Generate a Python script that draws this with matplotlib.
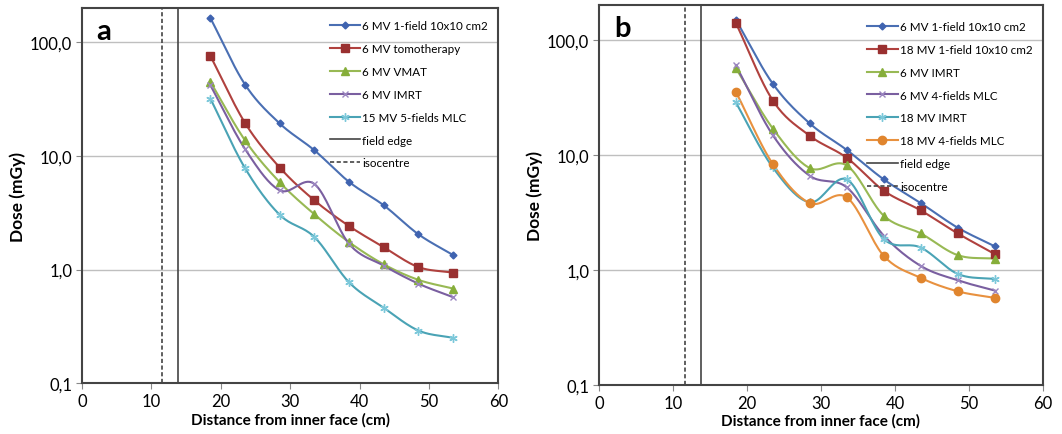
import numpy as np
import matplotlib
matplotlib.use("Agg")
import matplotlib.pyplot as plt
from matplotlib.lines import Line2D

plt.rcParams['font.family'] = ['Lato', 'DejaVu Sans']

distance = [18.5, 23.5, 28.5, 33.5, 38.5, 43.5, 48.5, 53.5]
isocentre_x = 11.6
field_edge_x = 13.8

# Panel a
a_labels = ["6 MV 1-field 10x10 cm2", "6 MV tomotherapy", "6 MV VMAT", "6 MV IMRT", "15 MV 5-fields MLC"]
a_6mv_1field = [164, 42.5, 19.3, 11.2, 5.9, 3.67, 2.04, 1.34]
a_6mv_tomo = [76, 19.5, 7.9, 4.06, 2.41, 1.57, 1.05, 0.94]
a_6mv_vmat = [45, 13.7, 5.86, 3.06, 1.74, 1.11, 0.81, 0.68]
a_6mv_imrt = [42, 11.5, 4.98, 5.66, 1.68, 1.08, 0.75, 0.57]
a_15mv_5f = [32, 7.8, 3.03, 1.93, 0.77, 0.46, 0.29, 0.25]

# Panel b
b_labels = ["6 MV 1-field 10x10 cm2", "18 MV 1-field 10x10 cm2", "6 MV IMRT",
            "6 MV 4-fields MLC", "18 MV IMRT", "18 MV 4-fields MLC"]
b_6mv_1field = [149, 41.4, 18.7, 11.0, 6.1, 3.8, 2.32, 1.60]
b_18mv_1field = [140, 29.6, 14.6, 9.4, 4.87, 3.28, 2.07, 1.37]
b_6mv_imrt = [56.7, 16.9, 7.66, 8.07, 2.95, 2.07, 1.34, 1.25]
b_6mv_4f = [60, 14.8, 6.56, 5.2, 1.98, 1.08, 0.81, 0.66]
b_18mv_imrt = [28.5, 7.76, 3.86, 6.1, 1.85, 1.56, 0.92, 0.83]
b_18mv_4f = [35.3, 8.3, 3.8, 4.26, 1.32, 0.85, 0.65, 0.57]

yticks = [0.1, 1, 10, 100]
ytick_labels = ["0,1", "1,0", "10,0", "100,0"]
xticks = [0, 10, 20, 30, 40, 50, 60]

BLUE = '#4A6FB3'; BLUE_M = '#3F63B0'
RED = '#B0413E'; RED_M = '#993030'
GREEN = '#98B954'; GREEN_M = '#86AE3A'
PURPLE = '#7A5FA0'; PURPLE_M = '#9B86C0'
CYAN = '#4AA3B5'; CYAN_M = '#7CC8DA'
ORANGE = '#E8913F'; ORANGE_M = '#E0852E'
GRAY = '#444444'


def smooth(x, y, n=20):
    """Catmull-Rom curve through points (Excel-like smoothed line) in log space."""
    x = np.asarray(x, float)
    ly = np.log10(np.asarray(y, float))
    px = np.concatenate([[2 * x[0] - x[1]], x, [2 * x[-1] - x[-2]]])
    py = np.concatenate([[2 * ly[0] - ly[1]], ly, [2 * ly[-1] - ly[-2]]])
    xs, ys = [], []
    t = np.linspace(0, 1, n, endpoint=False)
    for i in range(1, len(px) - 2):
        p0, p1, p2, p3 = py[i - 1], py[i], py[i + 1], py[i + 2]
        q0, q1, q2, q3 = px[i - 1], px[i], px[i + 1], px[i + 2]
        f = lambda a0, a1, a2, a3: 0.5 * ((2 * a1) + (-a0 + a2) * t +
                                          (2 * a0 - 5 * a1 + 4 * a2 - a3) * t ** 2 +
                                          (-a0 + 3 * a1 - 3 * a2 + a3) * t ** 3)
        xs.append(f(q0, q1, q2, q3))
        ys.append(f(p0, p1, p2, p3))
    xs.append([x[-1]]); ys.append([ly[-1]])
    return np.concatenate(xs), 10 ** np.concatenate(ys)


fig = plt.figure(figsize=(10.62, 4.35), dpi=100)
ax_a = fig.add_axes([0.0772, 0.117, 0.392, 0.862])
ax_b = fig.add_axes([0.564, 0.113, 0.418, 0.873])


def draw(ax, series, letter, leg_top):
    handles = []
    for vals, label, lc, mc, mk, ms in series:
        sx, sy = smooth(distance, vals)
        ax.plot(sx, sy, color=lc, lw=1.5, zorder=3)
        ax.plot(distance, vals, ls='none', marker=mk, ms=ms, color=mc, mec=mc,
                mfc=mc, mew=1.0, zorder=4)
        handles.append(Line2D([], [], color=lc, lw=1.5, marker=mk, ms=ms, mfc=mc, mec=mc, mew=1.0))
    ax.axvline(field_edge_x, color=GRAY, lw=1.2, zorder=2)
    ax.axvline(isocentre_x, color=GRAY, lw=1.2, ls=(0, (2.5, 1.5)), zorder=2)
    handles.append(Line2D([], [], color=GRAY, lw=1.2))
    handles.append(Line2D([], [], color=GRAY, lw=1.2, ls=(0, (2.5, 1.5))))
    labels = [s[1] for s in series] + ["field edge", "isocentre"]
    ax.set_yscale('log')
    ax.set_ylim(0.1, 200)
    ax.set_xlim(0, 60)
    ax.set_yticks(yticks)
    ax.set_yticklabels(ytick_labels)
    ax.yaxis.set_minor_locator(matplotlib.ticker.NullLocator())
    ax.set_xticks(xticks)
    ax.grid(axis='y', color='#BFBFBF', lw=1.0, zorder=1)
    ax.tick_params(axis='both', labelsize=12, direction='out', length=4, color='#888888', pad=3)
    for sp in ax.spines.values():
        sp.set_color(GRAY)
        sp.set_linewidth(1.5)
    ax.set_xlabel("Distance from inner face (cm)", fontsize=11, fontweight='bold', labelpad=2)
    ax.set_ylabel("Dose (mGy)", fontsize=12.5, fontweight='bold', labelpad=3)
    ax.text(0.035, 0.975, letter, transform=ax.transAxes, fontsize=21, fontweight='bold',
            va='top', ha='left')
    leg = ax.legend(handles, labels, loc='upper right', bbox_to_anchor=(0.995, leg_top), frameon=False,
                    fontsize=8.4, numpoints=1, handlelength=2.6, handletextpad=0.2,
                    labelspacing=1.02, borderaxespad=0.3)
    leg.set_zorder(5)


series_a = [
    (a_6mv_1field, a_labels[0], BLUE, BLUE_M, 'D', 3.5),
    (a_6mv_tomo, a_labels[1], RED, RED_M, 's', 6),
    (a_6mv_vmat, a_labels[2], GREEN, GREEN_M, '^', 6),
    (a_6mv_imrt, a_labels[3], PURPLE, PURPLE_M, 'x', 5),
    (a_15mv_5f, a_labels[4], CYAN, CYAN_M, (6, 2, 0), 6),
]
series_b = [
    (b_6mv_1field, b_labels[0], BLUE, BLUE_M, 'D', 3.5),
    (b_18mv_1field, b_labels[1], RED, RED_M, 's', 6),
    (b_6mv_imrt, b_labels[2], GREEN, GREEN_M, '^', 6),
    (b_6mv_4f, b_labels[3], PURPLE, PURPLE_M, 'x', 5),
    (b_18mv_imrt, b_labels[4], CYAN, CYAN_M, (6, 2, 0), 6),
    (b_18mv_4f, b_labels[5], ORANGE, ORANGE_M, 'o', 6),
]

draw(ax_a, series_a, 'a', 0.99)
draw(ax_b, series_b, 'b', 0.98)

fig.savefig('out.png', dpi=100)
